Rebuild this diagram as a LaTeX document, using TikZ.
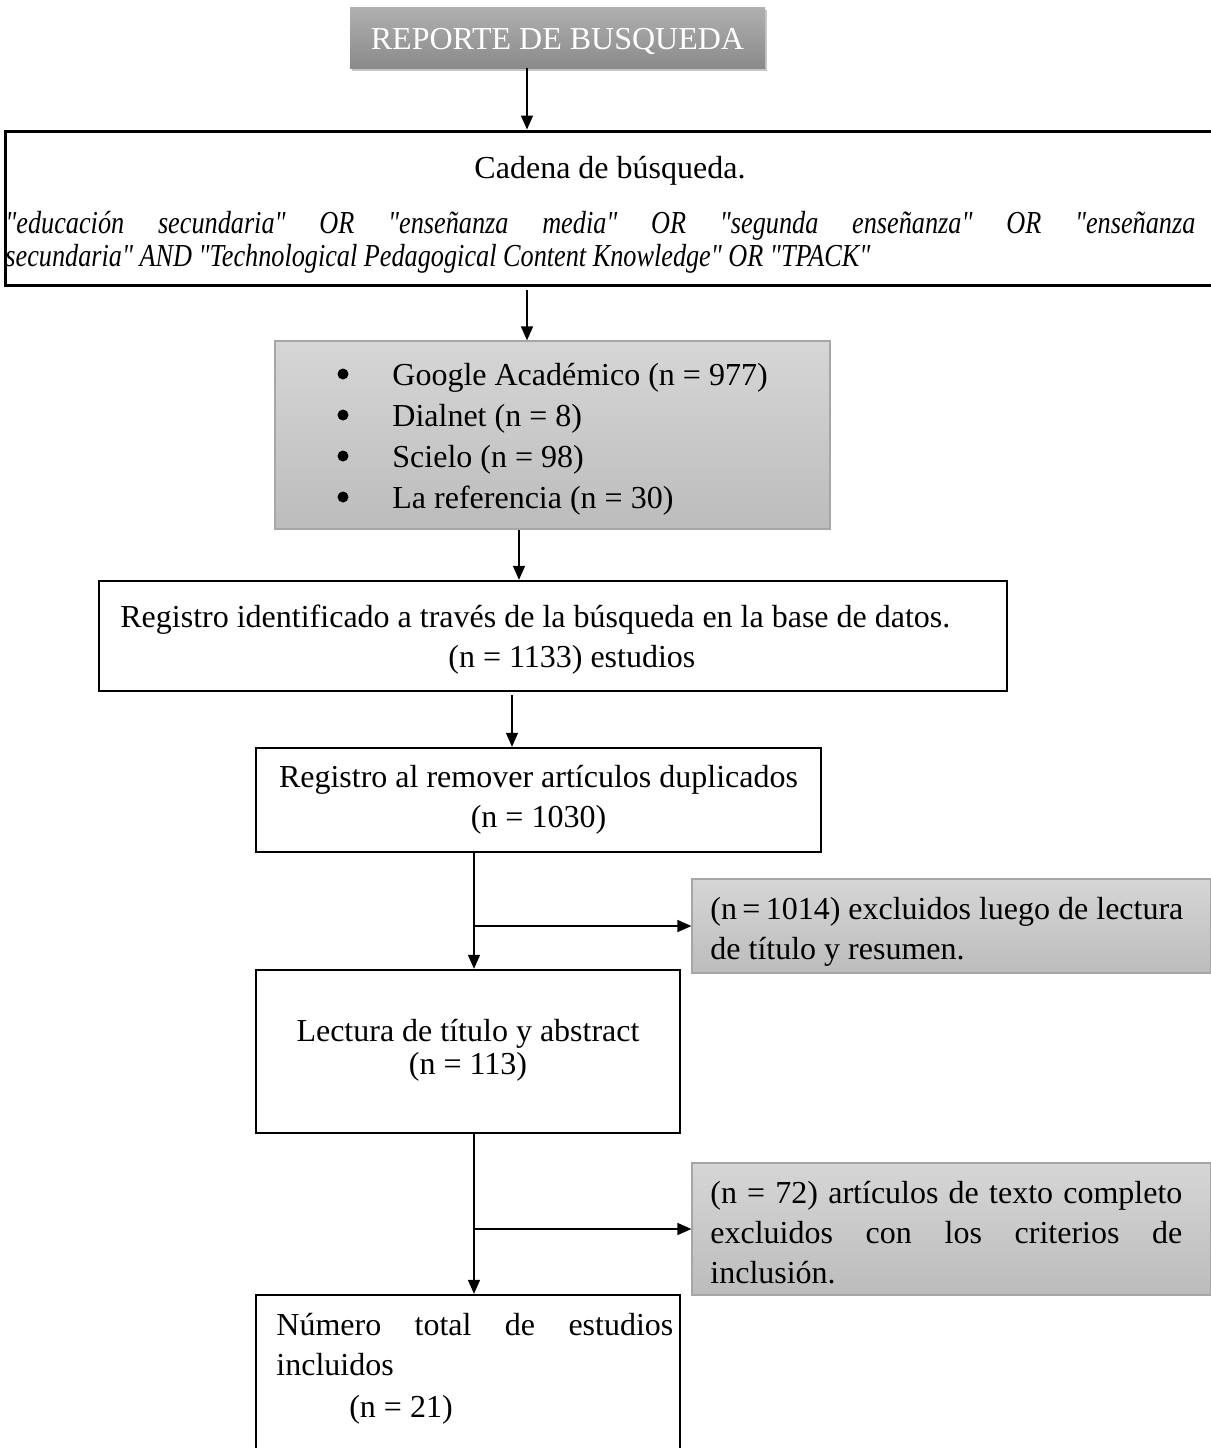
\documentclass[tikz,border=0pt]{standalone}
\usepackage{fontspec}
\setmainfont{Liberation Serif}
\newfontfamily\condit{Liberation Serif}[FakeStretch=0.82]
\usetikzlibrary{arrows.meta,shadows,calc}
\definecolor{topgA}{HTML}{B0B0B0}
\definecolor{topgB}{HTML}{8A8A8A}
\definecolor{lgA}{HTML}{D6D6D6}
\definecolor{lgB}{HTML}{BCBCBC}
\definecolor{lgBorder}{HTML}{A6A6A6}
\newcommand{\dq}{\symbol{34}}
\tikzset{
  mainbox/.style={draw=black, line width=1.2pt, inner sep=0pt},
  graybox/.style={draw=lgBorder, line width=0.6pt, top color=lgA, bottom color=lgB, inner sep=0pt},
  headbox/.style={top color=topgA, bottom color=topgB, draw=none, inner sep=0pt,
     drop shadow={shadow xshift=1pt, shadow yshift=-1.5pt, opacity=0.45}},
  txt/.style={font=\fontsize{16}{20}\selectfont, inner sep=0pt},
  dot/.style={circle, fill=black, inner sep=0pt, minimum size=5.5pt},
  arr/.style={line width=0.75pt, -{Triangle[length=7pt,width=6pt]}},
}
\begin{document}
\begin{tikzpicture}[x=0.5pt,y=-0.5pt]
\useasboundingbox (0,0) rectangle (1211,1448);
% header
\node[headbox, minimum width=207.5pt, minimum height=30.5pt] (top) at (557.5,37.5) {};
\node[txt, anchor=base, text=white] (toptxt) at (557.5,49) {REPORTE DE BUSQUEDA};
% cadena box
\node[mainbox, line width=1.5pt, minimum width=605pt, minimum height=77pt] (cad) at (610,208) {};
\node[txt, anchor=base] (cadt) at (610,178) {Cadena de búsqueda.};
\node[txt, anchor=base west, text width=595pt, align=justify, font=\fontsize{16}{16.5}\selectfont] (cadi) at (5,233)
 {\condit\itshape \dq educación secundaria\dq{} OR \dq enseñanza media\dq{} OR \dq segunda enseñanza\dq{} OR \dq enseñanza\linebreak secundaria\dq{} AND \dq Technological Pedagogical Content Knowledge\dq{} OR \dq TPACK\dq};
% list box
\node[graybox, minimum width=277.5pt, minimum height=94pt] (lst) at (552.5,435) {};
\foreach \yy/\tt [count=\i] in {385/{Google Académico (n = 977)},426/{Dialnet (n = 8)},467/{Scielo (n = 98)},508/{La referencia (n = 30)}}{
  \node[dot] (b\i) at (343,\yy-11) {};
  \node[txt, anchor=base west] (l\i) at (392,\yy) {\tt};
}
% registro identificado (anchor base = last line)
\node[mainbox, minimum width=454pt, minimum height=55pt] (reg1) at (553,636) {};
\node[txt, anchor=base west, align=left] (reg1t) at (120,667) {Registro identificado a través de la búsqueda en la base de datos.\\\hspace*{164pt}(n = 1133) estudios};
% registro duplicados
\node[mainbox, minimum width=282.5pt, minimum height=52pt] (reg2) at (538.5,800) {};
\node[txt, anchor=base, align=center] (reg2t) at (538.5,827) {Registro al remover artículos duplicados\\(n = 1030)};
% excl 1
\node[graybox, minimum width=259.5pt, minimum height=47pt] (ex1) at (951.5,926) {};
\node[txt, anchor=base west, align=left] (ex1t) at (710,959) {(n\,=\,1014) excluidos luego de lectura\\de título y resumen.};
% lectura
\node[mainbox, minimum width=212pt, minimum height=81.5pt] (lect) at (468,1051.5) {};
\node[txt, anchor=base, align=center, font=\fontsize{16}{16.5}\selectfont] (lectt) at (468,1074) {Lectura de título y abstract\\(n = 113)};
% excl 2
\node[graybox, minimum width=259.5pt, minimum height=66pt] (ex2) at (951.5,1229) {};
\node[txt, anchor=base west, text width=236pt, align=justify] (ex2t) at (710,1203)
 {(n = 72) artículos de texto completo\linebreak excluidos con los criterios de\linebreak inclusión.};
% total
\node[mainbox, minimum width=212pt, minimum height=82pt] (tot) at (468,1377) {};
\node[txt, anchor=base west, text width=198.5pt, align=justify] (tott) at (276,1335)
 {Número total de estudios\linebreak incluidos};
\node[txt, anchor=base] (tot3) at (401,1417) {(n = 21)};
% connectors
\coordinate (x1) at (527,0);
\coordinate (x2) at (519,0);
\coordinate (x3) at (512,0);
\coordinate (x4) at (474,0);
\draw[arr] (top.south -| x1) -- (cad.north -| x1);
\draw[arr] ($(cad.south -| x1)+(0,3)$) -- (lst.north -| x1);
\draw[arr] (lst.south -| x2) -- (reg1.north -| x2);
\draw[arr] ($(reg1.south -| x3)+(0,3)$) -- (reg2.north -| x3);
\draw[arr] (reg2.south -| x4) -- (lect.north -| x4);
\draw[arr] (x4 |- ex1.west) -- (ex1.west);
\draw[arr] (lect.south -| x4) -- (tot.north -| x4);
\draw[arr] (x4 |- ex2.west) -- (ex2.west);
\end{tikzpicture}
\end{document}
